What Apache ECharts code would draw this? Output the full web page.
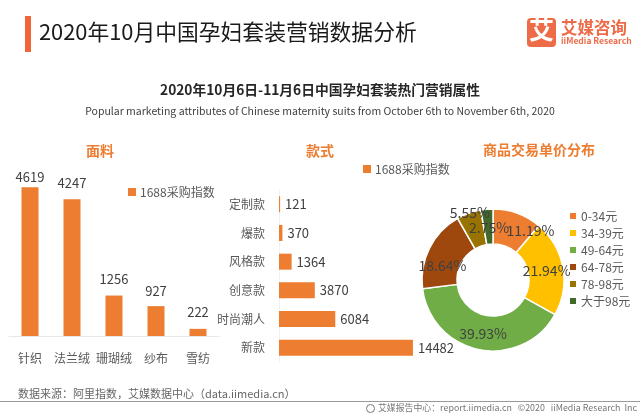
<!DOCTYPE html>
<html>
<head>
<meta charset="utf-8">
<title>2020年10月中国孕妇套装营销数据分析</title>
<script src="https://cdn.jsdelivr.net/npm/echarts@6/dist/echarts.min.js"></script>
<style>
  html, body { margin: 0; padding: 0; background: #fff; }
  #main { width: 640px; height: 416px; }
</style>
</head>
<body>
<div id="main"></div>
<script>
// 面料
const fabricNames = ['针织', '法兰绒', '珊瑚绒', '纱布', '雪纺'];
const fabricValues = [4619, 4247, 1256, 927, 222];
// 款式
const styleNames = ['定制款', '爆款', '风格款', '创意款', '时尚潮人', '新款'];
const styleValues = [121, 370, 1364, 3870, 6084, 14482];
// 商品交易单价分布
const priceNames = ['0-34元', '34-39元', '49-64元', '64-78元', '78-98元', '大于98元'];
const priceValues = [11.19, 21.94, 39.93, 18.64, 5.55, 2.75];

const seriesName = '1688采购指数';
const orange = '#ED7D31';
const pieColors = ['#ED7D31', '#FFC000', '#70AD47', '#9E480E', '#997300', '#43682B'];
// 标签相对默认位置的偏移
const fabricLabelDy = [-1, -7, -7, -6, -7];
const pieLabelOffsets = [[18, 4], [-2, 1], [1, -2], [0, 11], [-4, -14], [1, 4]];

const font = '"Noto Sans CJK SC", "Noto Sans", sans-serif';

function heading(text, left, top, size, weight, color) {
  return {
    text: text,
    left: left,
    top: top,
    textAlign: 'center',
    padding: 0,
    textStyle: { fontFamily: font, fontSize: size, fontWeight: weight, color: color, lineHeight: size + 2 }
  };
}

function barLegend(left, top) {
  return {
    data: [seriesName],
    left: left,
    top: top,
    padding: 0,
    icon: 'rect',
    itemWidth: 8,
    itemHeight: 8,
    itemGap: 0,
    selectedMode: false,
    textStyle: { fontFamily: font, fontSize: 12, color: '#595959', padding: [0, 0, 0, -1] }
  };
}

const chart = echarts.init(document.getElementById('main'), null, { renderer: 'canvas' });

chart.setOption({
  animation: false,
  backgroundColor: '#fff',
  textStyle: { fontFamily: font },
  title: [
    heading('2020年10月6日-11月6日中国孕妇套装热门营销属性', 320, 82, 13.75, 'bold', '#262626'),
    heading('Popular marketing attributes of Chinese maternity suits from October 6th to November 6th, 2020', 320, 105, 10.5, 'normal', '#404040'),
    heading('面料', 100, 143, 14, 'bold', orange),
    heading('款式', 320, 143, 14, 'bold', orange),
    heading('商品交易单价分布', 539, 142, 14, 'bold', orange)
  ],
  legend: [
    barLegend(128, 186),
    barLegend(363, 163),
    {
      data: priceNames,
      orient: 'vertical',
      left: 568,
      top: 210,
      padding: 0,
      icon: 'rect',
      itemWidth: 8,
      itemHeight: 8,
      itemGap: 5,
      selectedMode: false,
      textStyle: { fontFamily: font, fontSize: 12, color: '#595959', padding: [0, 0, 0, -1] }
    }
  ],
  grid: [
    { left: 9, top: 175, width: 210, height: 161 },
    { left: 279, top: 190, width: 148, height: 172 }
  ],
  xAxis: [
    {
      gridIndex: 0,
      type: 'category',
      data: fabricNames,
      axisTick: { show: false },
      axisLine: { lineStyle: { color: '#e8e8e8' } },
      axisLabel: { fontSize: 12, color: '#595959', margin: 16, interval: 0 }
    },
    { gridIndex: 1, type: 'value', min: 0, max: 16000, show: false }
  ],
  yAxis: [
    { gridIndex: 0, type: 'value', min: 0, max: 5000, show: false },
    {
      gridIndex: 1,
      type: 'category',
      inverse: true,
      data: styleNames,
      axisTick: { show: false },
      axisLine: { lineStyle: { color: '#f2f2f2' } },
      axisLabel: { fontSize: 12, color: '#595959', margin: 14, interval: 0 }
    }
  ],
  series: [
    {
      name: seriesName,
      type: 'bar',
      xAxisIndex: 0,
      yAxisIndex: 0,
      data: fabricValues,
      barWidth: 17,
      itemStyle: { color: orange },
      label: { show: true, position: 'top', distance: 3, fontSize: 13, color: '#404040' },
      labelLayout: function (p) {
        return { dy: fabricLabelDy[p.dataIndex] };
      }
    },
    {
      name: seriesName,
      type: 'bar',
      xAxisIndex: 1,
      yAxisIndex: 1,
      data: styleValues,
      barWidth: 16,
      itemStyle: { color: orange },
      label: { show: true, position: 'right', distance: 5, fontSize: 13, color: '#404040' }
    },
    {
      type: 'pie',
      center: [493, 280],
      radius: [36, 71],
      startAngle: 90,
      clockwise: true,
      silent: true,
      data: priceNames.map(function (name, i) {
        return { name: name, value: priceValues[i], itemStyle: { color: pieColors[i] } };
      }),
      itemStyle: { borderColor: '#fff', borderWidth: 1.5 },
      label: {
        show: true,
        position: 'inside',
        fontSize: 14,
        color: '#404040',
        formatter: function (p) { return p.value + '%'; }
      },
      labelLine: { show: false },
      labelLayout: function (p) {
        return { dx: pieLabelOffsets[p.dataIndex][0], dy: pieLabelOffsets[p.dataIndex][1] };
      }
    }
  ],
  graphic: [
    // 页面标题
    { type: 'rect', left: 25, top: 16, shape: { width: 6, height: 36 }, style: { fill: '#F0653C' } },
    { type: 'text', left: 39, top: 21, style: { text: '2020年10月中国孕妇套装营销数据分析', font: '21.8px ' + font, fill: '#1a1a1a' } },
    // logo
    { type: 'rect', left: 527, top: 18, shape: { width: 29, height: 29, r: 4 }, style: { fill: '#EE6B47' } },
    { type: 'text', left: 529, top: 17, style: { text: '艾', font: 'bold 25px ' + font, fill: '#fff' } },
    { type: 'text', left: 561, top: 19, style: { text: '艾媒咨询', font: 'bold 16.5px ' + font, fill: '#EE6B47' } },
    { type: 'text', left: 561, top: 37, style: { text: 'iiMedia Research', font: 'bold 8.5px ' + font, fill: '#EE6B47' } },
    // 页脚
    { type: 'text', left: 18, top: 388, style: { text: '数据来源：阿里指数，艾媒数据中心（data.iimedia.cn）', font: '11px ' + font, fill: '#666' } },
    { type: 'rect', left: 0, top: 401, shape: { width: 640, height: 1 }, style: { fill: '#9a9a9a' } },
    { type: 'circle', left: 366, top: 404, shape: { r: 4 }, style: { fill: '#fff', stroke: '#777', lineWidth: 1 } },
    { type: 'text', left: 378, top: 403, style: { text: '艾媒报告中心：report.iimedia.cn   ©2020   iiMedia Research  Inc', font: '8.9px ' + font, fill: '#777' } }
  ]
});
</script>
</body>
</html>
